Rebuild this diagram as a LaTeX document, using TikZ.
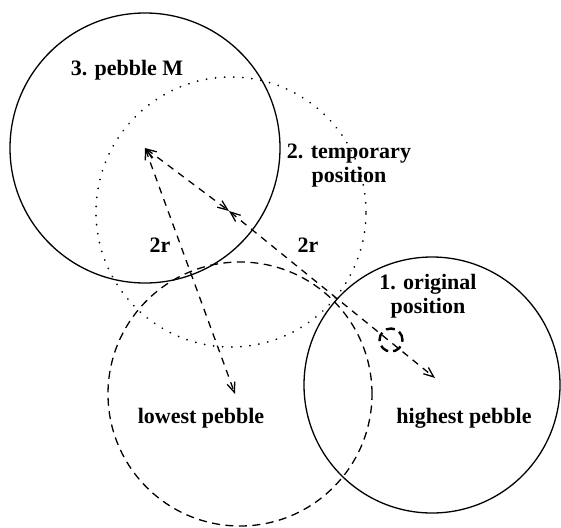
\documentclass[tikz,border=0pt]{standalone}
\usepackage{fontspec}
\setmainfont{Liberation Serif}
\usetikzlibrary{arrows.meta}
\begin{document}
\begin{tikzpicture}[x=1pt,y=-1pt,
  pebble/.style={circle, draw, line width=1.3pt, inner sep=0pt},
  tempcirc/.style={circle, draw, inner sep=0pt, line width=1.9pt, dash pattern=on 0.1pt off 9pt, line cap=round},
  lowcirc/.style={circle, draw, inner sep=0pt, line width=1.3pt, dash pattern=on 8pt off 5.5pt},
  smallcirc/.style={circle, draw, inner sep=0pt, line width=2.4pt, dash pattern=on 9pt off 5pt, minimum size=23pt},
  lbl/.style={font=\fontsize{22}{24}\selectfont\bfseries, align=center, inner sep=0pt},
  link/.style={line width=1.3pt, dash pattern=on 7pt off 6pt, {Straight Barb[length=10pt,width=8pt]}-{Straight Barb[length=10pt,width=8pt]}}
]
\useasboundingbox (0,0) rectangle (561,527);
% circles
\node[pebble, minimum size=270pt] (Mc) at (145,148) {};
\node[tempcirc, minimum size=270pt] (Tc) at (231,212) {};
\node[lowcirc, minimum size=264pt] (Lc) at (240,394) {};
\node[pebble, minimum size=256pt] (Hc) at (432,385) {};
\node[smallcirc] (S) at (391,340) {};
% centers
\coordinate (M) at (145,148);
\coordinate (T) at (229,211);
\coordinate (L) at (235,394);
\coordinate (H) at (435,378);
% arrows
\draw[link] (M) -- (T);
\draw[link] (M) -- (L);
\draw[link] (T) -- (H);
% labels
\node[lbl] (l3) at (127,70) {3. pebble M};
\node[lbl] (l2) at (349,166) {2. temporary\\position};
\node[lbl] (r1) at (160,245) {2r};
\node[lbl] (r2) at (308,245) {2r};
\node[lbl] (l1) at (428,296) {1. original\\position};
\node[lbl] (lp) at (201,418) {lowest pebble};
\node[lbl] (hp) at (464,418) {highest pebble};
\end{tikzpicture}
\end{document}
